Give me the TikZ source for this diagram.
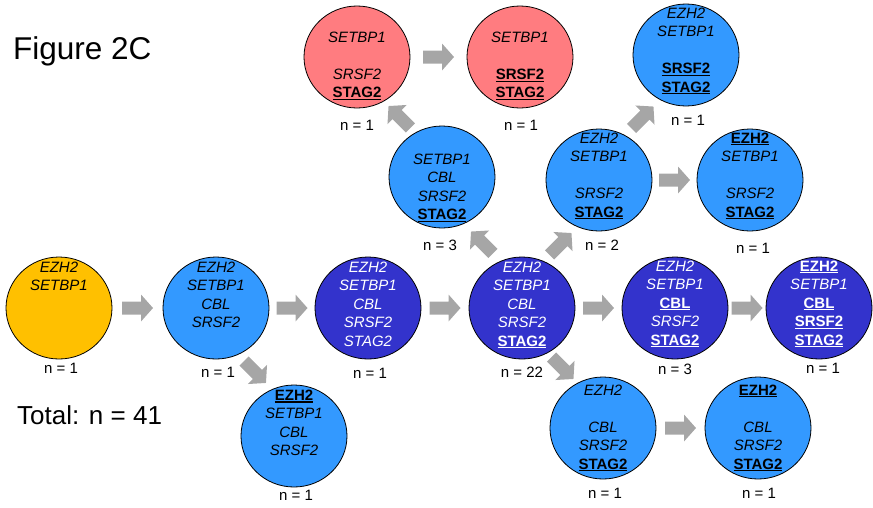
\documentclass[tikz,border=0pt]{standalone}
\usepackage{fontspec}
\setmainfont{Liberation Sans}
\usetikzlibrary{shapes.geometric,calc}
\definecolor{orangeC}{HTML}{FFC000}
\definecolor{lblue}{HTML}{3399FF}
\definecolor{dblue}{HTML}{3333CC}
\definecolor{pinkC}{HTML}{FF7C80}
\definecolor{arrgray}{HTML}{A6A6A6}
\newcommand\gi[1]{\vphantom{E}\textit{#1}}
\newcommand\gu[1]{\vphantom{E}\setbox0\hbox{\textbf{#1}}\rlap{\rule[-2.4pt]{\wd0}{1.3pt}}\box0}
\newcommand\gz{\vphantom{E}}
\newcommand\blockarr[3]{%
  \begin{scope}[shift={($(#1)!0.5!(#2)$)}, rotate=#3]
    \fill[arrgray] (-15.5,-6.5) -- (3.5,-6.5) -- (3.5,-13.5) -- (15.5,0) -- (3.5,13.5) -- (3.5,6.5) -- (-15.5,6.5) -- cycle;
  \end{scope}}
\tikzset{
  circ/.style={ellipse, draw=black, line width=0.8pt, minimum width=106pt, minimum height=102pt, inner sep=0pt},
  gtext/.style={align=center, font=\fontsize{15}{18.5}\selectfont, inner sep=0pt},
  wtext/.style={gtext, text=white},
  nlab/.style={font=\fontsize{15}{18}\selectfont, inner sep=0pt}
}
\begin{document}
\begin{tikzpicture}[x=1pt,y=-1pt]
\useasboundingbox (0,0) rectangle (873,507);
% circles
\node[circ, fill=orangeC] (A) at (59,308) {};
\node[circ, fill=lblue]   (B) at (216,308) {};
\node[circ, fill=dblue]   (C) at (368,308) {};
\node[circ, fill=lblue]   (D) at (294,436) {};
\node[circ, fill=dblue]   (E) at (522,308) {};
\node[circ, fill=dblue]   (F) at (675,308) {};
\node[circ, fill=dblue]   (G) at (819,308) {};
\node[circ, fill=lblue]   (H) at (603,428) {};
\node[circ, fill=lblue]   (I) at (758,428) {};
\node[circ, fill=lblue]   (N) at (442,177) {};
\node[circ, fill=lblue]   (M) at (599,180) {};
\node[circ, fill=lblue]   (L) at (750,180) {};
\node[circ, fill=lblue]   (K) at (686,55) {};
\node[circ, fill=pinkC]   (J) at (357,57) {};
\node[circ, fill=pinkC]   (O) at (520,57) {};
% texts
\node[gtext] (At) at ($(A)+(0,-4)$) {\gi{EZH2}\\\gi{SETBP1}\\\gz\\\gz\\\gz};
\node[gtext] (Bt) at ($(B)+(0,-4)$) {\gi{EZH2}\\\gi{SETBP1}\\\gi{CBL}\\\gi{SRSF2}\\\gz};
\node[wtext] (Ct) at ($(C)+(0,-4)$) {\gi{EZH2}\\\gi{SETBP1}\\\gi{CBL}\\\gi{SRSF2}\\\gi{STAG2}};
\node[gtext] (Dt) at ($(D)+(0,-4)$) {\gu{EZH2}\\\gi{SETBP1}\\\gi{CBL}\\\gi{SRSF2}\\\gz};
\node[wtext] (Et) at ($(E)+(0,-3)$) {\gi{EZH2}\\\gi{SETBP1}\\\gi{CBL}\\\gi{SRSF2}\\\gu{STAG2}};
\node[wtext] (Ft) at ($(F)+(0,-4)$) {\gi{EZH2}\\\gi{SETBP1}\\\gu{CBL}\\\gi{SRSF2}\\\gu{STAG2}};
\node[wtext] (Gt) at ($(G)+(0,-4)$) {\gu{EZH2}\\\gi{SETBP1}\\\gu{CBL}\\\gu{SRSF2}\\\gu{STAG2}};
\node[gtext] (Ht) at ($(H)+(0,0)$) {\gi{EZH2}\\\gz\\\gi{CBL}\\\gi{SRSF2}\\\gu{STAG2}};
\node[gtext] (It) at ($(I)+(0,0)$) {\gu{EZH2}\\\gz\\\gi{CBL}\\\gi{SRSF2}\\\gu{STAG2}};
\node[gtext] (Nt) at ($(N)+(0,2)$) {\gz\\\gi{SETBP1}\\\gi{CBL}\\\gi{SRSF2}\\\gu{STAG2}};
\node[gtext] (Mt) at ($(M)+(0,-4)$) {\gi{EZH2}\\\gi{SETBP1}\\\gz\\\gi{SRSF2}\\\gu{STAG2}};
\node[gtext] (Lt) at ($(L)+(0,-4)$) {\gu{EZH2}\\\gi{SETBP1}\\\gz\\\gi{SRSF2}\\\gu{STAG2}};
\node[gtext] (Kt) at ($(K)+(0,-4)$) {\gi{EZH2}\\\gi{SETBP1}\\\gz\\\gu{SRSF2}\\\gu{STAG2}};
\node[gtext] (Jt) at ($(J)+(0,0)$) {\gz\\\gi{SETBP1}\\\gz\\\gi{SRSF2}\\\gu{STAG2}};
\node[gtext] (Ot) at ($(O)+(0,0)$) {\gz\\\gi{SETBP1}\\\gz\\\gu{SRSF2}\\\gu{STAG2}};
% counts
\node[nlab] (An) at (61,368) {n = 1};
\node[nlab] (Bn) at (218,372) {n = 1};
\node[nlab] (Cn) at (370,373) {n = 1};
\node[nlab] (Dn) at (296,495) {n = 1};
\node[nlab] (En) at (522,372) {n = 22};
\node[nlab] (Fn) at (675,369) {n = 3};
\node[nlab] (Gn) at (823,368) {n = 1};
\node[nlab] (Hn) at (605,493) {n = 1};
\node[nlab] (In) at (759,493) {n = 1};
\node[nlab] (Nn) at (440,245) {n = 3};
\node[nlab] (Mn) at (602,245) {n = 2};
\node[nlab] (Ln) at (753,248) {n = 1};
\node[nlab] (Kn) at (688,120) {n = 1};
\node[nlab] (Jn) at (357,125) {n = 1};
\node[nlab] (On) at (521,125) {n = 1};
% titles
\node[anchor=base west, inner sep=0pt, font=\fontsize{31.5}{36}\selectfont] (title) at (13,59) {Figure 2C};
\node[anchor=base west, inner sep=0pt, font=\fontsize{26}{30}\selectfont] (total) at (17,424) {Total: n = 41};
% block arrows
\blockarr{A}{B}{0}
\blockarr{B}{C}{0}
\blockarr{C}{E}{0}
\blockarr{E}{F}{0}
\blockarr{F}{G}{0}
\blockarr{J}{O}{0}
\blockarr{M}{L}{0}
\blockarr{H}{I}{0}
\blockarr{B}{D}{-45}
\blockarr{E}{H}{-45}
\blockarr{E}{N}{135}
\blockarr{E}{M}{45}
\blockarr{N}{J}{135}
\blockarr{M}{K}{45}
\end{tikzpicture}
\end{document}
